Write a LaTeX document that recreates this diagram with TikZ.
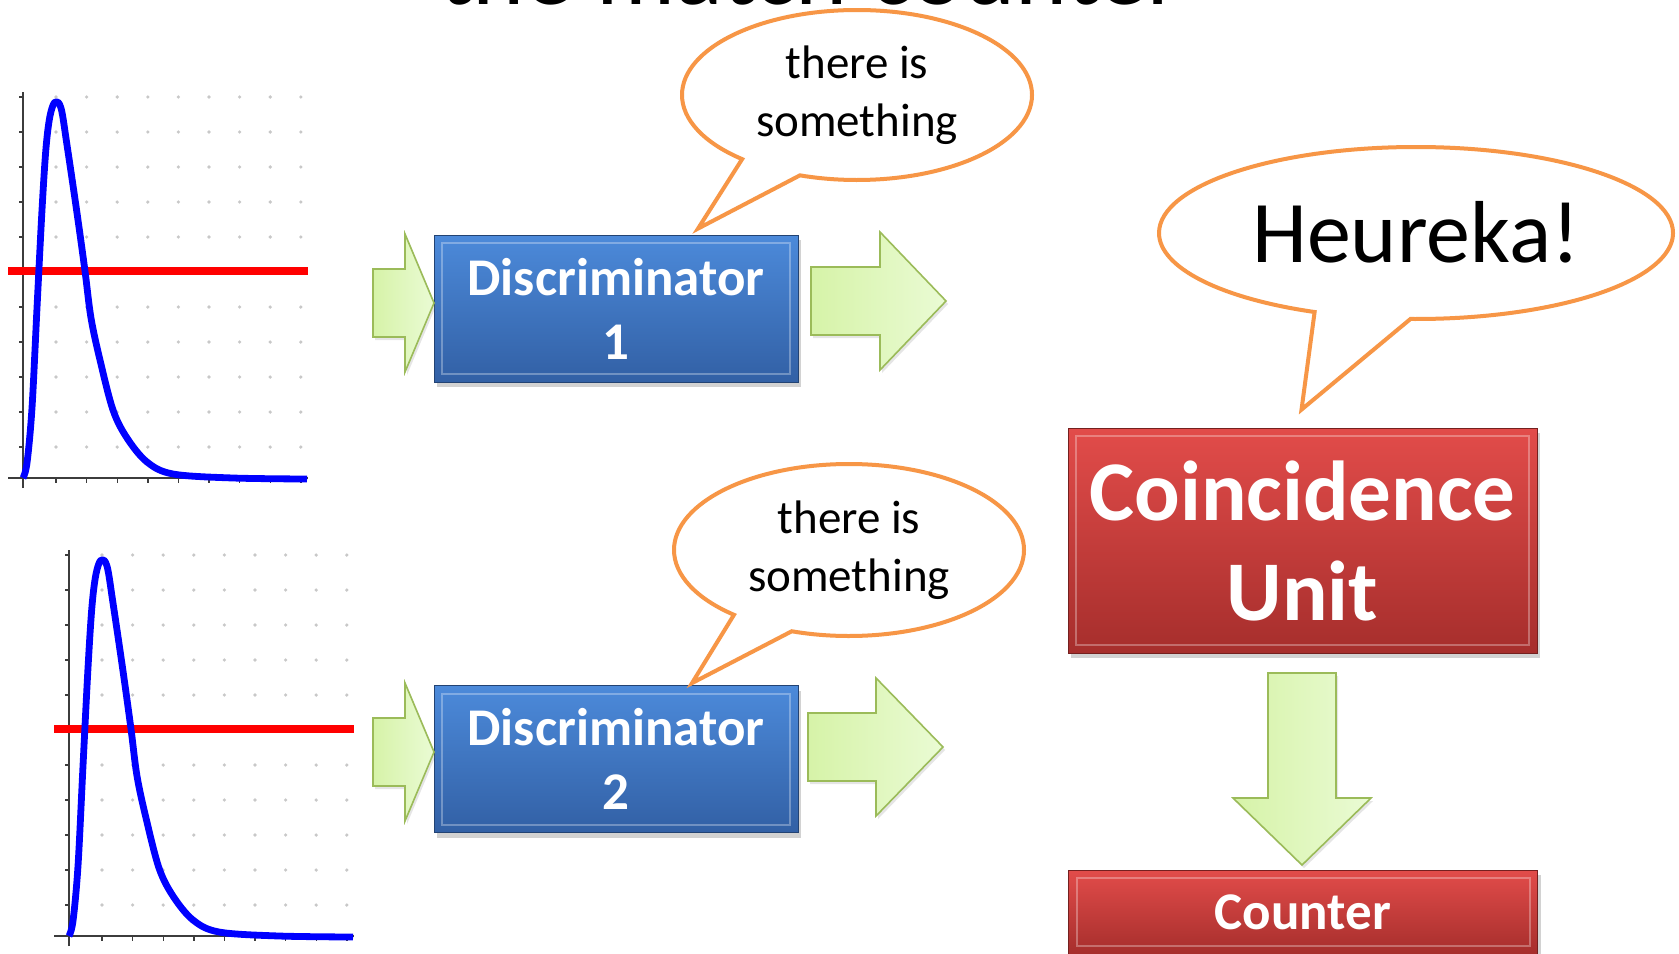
\documentclass[tikz,border=0pt]{standalone}
\usepackage{fontspec}
\setmainfont{Carlito}
\usetikzlibrary{shapes.callouts,shadows}

\definecolor{discblue}{RGB}{76,138,218}
\definecolor{discbluedark}{RGB}{50,96,165}
\definecolor{unitred}{RGB}{226,76,74}
\definecolor{unitreddark}{RGB}{166,46,44}
\definecolor{bubbleorange}{RGB}{247,150,70}
\definecolor{arrowgreen}{RGB}{155,187,89}
\definecolor{arrowlight}{RGB}{234,251,212}
\definecolor{arrowmid}{RGB}{214,243,168}
\definecolor{dotgray}{RGB}{200,200,200}
\definecolor{axisgray}{RGB}{60,60,60}

\tikzset{
  boxshadow/.style={drop shadow={shadow xshift=1.5pt, shadow yshift=-2.5pt, opacity=.35}},
  bevel/.style={path picture={
    \draw[white, opacity=.3, line width=1pt]
      ([shift={(4pt,-4pt)}]path picture bounding box.north west) rectangle
      ([shift={(-4pt,4pt)}]path picture bounding box.south east);}},
  discbox/.style={draw=discbluedark!70!black, top color=discblue, bottom color=discbluedark,
    text=white, font=\bfseries\fontsize{26.5}{32}\selectfont, align=center,
    minimum width=182pt, minimum height=73.5pt, inner sep=0pt, boxshadow, bevel},
  unitbox/.style={draw=unitreddark!70!black, top color=unitred, bottom color=unitreddark,
    text=white, align=center, inner sep=0pt, minimum width=234.5pt, boxshadow, bevel},
  bubble/.style={ellipse callout, draw=bubbleorange, line width=2pt, fill=white,
    align=center, inner sep=0pt, callout pointer arc=22},
  smalltalk/.style={font=\fontsize{23.5}{29}\selectfont},
  greenarrow/.style={draw=arrowgreen, line width=0.8pt, left color=arrowmid, right color=arrowlight,
    drop shadow={shadow xshift=1pt, shadow yshift=-1.5pt, opacity=.2}},
  pulse/.style={blue, line width=3.4pt, line join=round},
  threshold/.style={red, line width=4pt},
  axis/.style={axisgray, line width=0.7pt}
}

% one pulse plot, origin at the axes corner
\newcommand{\pulseplot}[1]{%
  \begin{scope}[shift={#1}]
    \foreach \i in {0,...,8}
      \foreach \j in {0,...,10}
        \fill[dotgray] (33+30.6*\i,-381+35*\j) circle (1.8);
    \draw[axis] (0,10) -- (0,-386);
    \draw[axis] (-15,0) -- (285,0);
    \foreach \j in {0,...,10}
      \draw[axis] (-4,-381+35*\j) -- (0,-381+35*\j);
    \foreach \i in {0,...,8}
      \draw[axis] (33+30.6*\i,0) -- (33+30.6*\i,5);
    \draw[threshold] (-15,-207) -- (285,-207);
    \draw[pulse] plot[smooth, tension=0.55] coordinates {(0,0) (4,-15) (9,-70) (14,-170)
      (19,-268) (23,-330) (27,-362) (32,-376) (38,-370) (44,-333) (54,-265) (62,-207)
      (68,-160) (77,-118) (90,-68) (104,-40) (124,-16) (150,-4) (210,0) (284,1)};
  \end{scope}}

% fat arrow from tail point, along angle
\newcommand{\blockarrow}[4]{%
  \begin{scope}[shift={#1}, rotate=#2]
    \draw[greenarrow] (0,-34) -- (#3,-34) -- (#3,-69) -- ({#3+#4},0) -- (#3,69)
      -- (#3,34) -- (0,34) -- cycle;
  \end{scope}}

\begin{document}
\begin{tikzpicture}[x=0.5pt, y=-0.5pt]
  \useasboundingbox (0,0) rectangle (1679,953);
  \fill[white] (0,0) rectangle (1679,953);

  % title, cut by the page
  \node[anchor=base, font=\fontsize{49.5}{60}\selectfont] (title) at (811,4) {the match counter};

  % signals
  \pulseplot{(23,478)}
  \pulseplot{(69,936)}

  % discriminators
  \node[discbox] (disc1) at (616,308.5) {Discriminator\\1};
  \node[discbox] (disc2) at (616,759) {Discriminator\\2};

  % coincidence and counter
  \node[unitbox, minimum height=112.5pt, font=\bfseries\fontsize{42.5}{50}\selectfont]
    (coinc) at (1302.5,540.5) {Coincidence\\Unit};
  \node[unitbox, minimum height=42pt, font=\bfseries\fontsize{26.5}{32}\selectfont]
    (counter) at (1303,912) {Counter};

  % arrows
  \blockarrow{(373,303)}{0}{32}{29}
  \blockarrow{(373,752)}{0}{32}{29}
  \blockarrow{(811,301)}{0}{69}{66}
  \blockarrow{(808,747)}{0}{68}{67}
  \blockarrow{(1302,673)}{-90}{125}{67}

  % speech bubbles
  \node[bubble, smalltalk, minimum width=175pt, minimum height=85pt,
    callout absolute pointer={([xshift=41pt,yshift=3pt]disc1.north)}]
    (say1) at (857,95) {there is\\something};
  \node[bubble, smalltalk, minimum width=175pt, minimum height=86pt,
    callout absolute pointer={([xshift=38pt,yshift=1pt]disc2.north)}]
    (say2) at (849,550) {there is\\something};
  \node[bubble, minimum width=257pt, minimum height=86pt, text depth=1pt,
    font=\fontsize{44}{50}\selectfont,
    callout absolute pointer={([xshift=-0.5pt,yshift=9pt]coinc.north)}]
    (heureka) at (1416,233) {Heureka!};
\end{tikzpicture}
\end{document}
